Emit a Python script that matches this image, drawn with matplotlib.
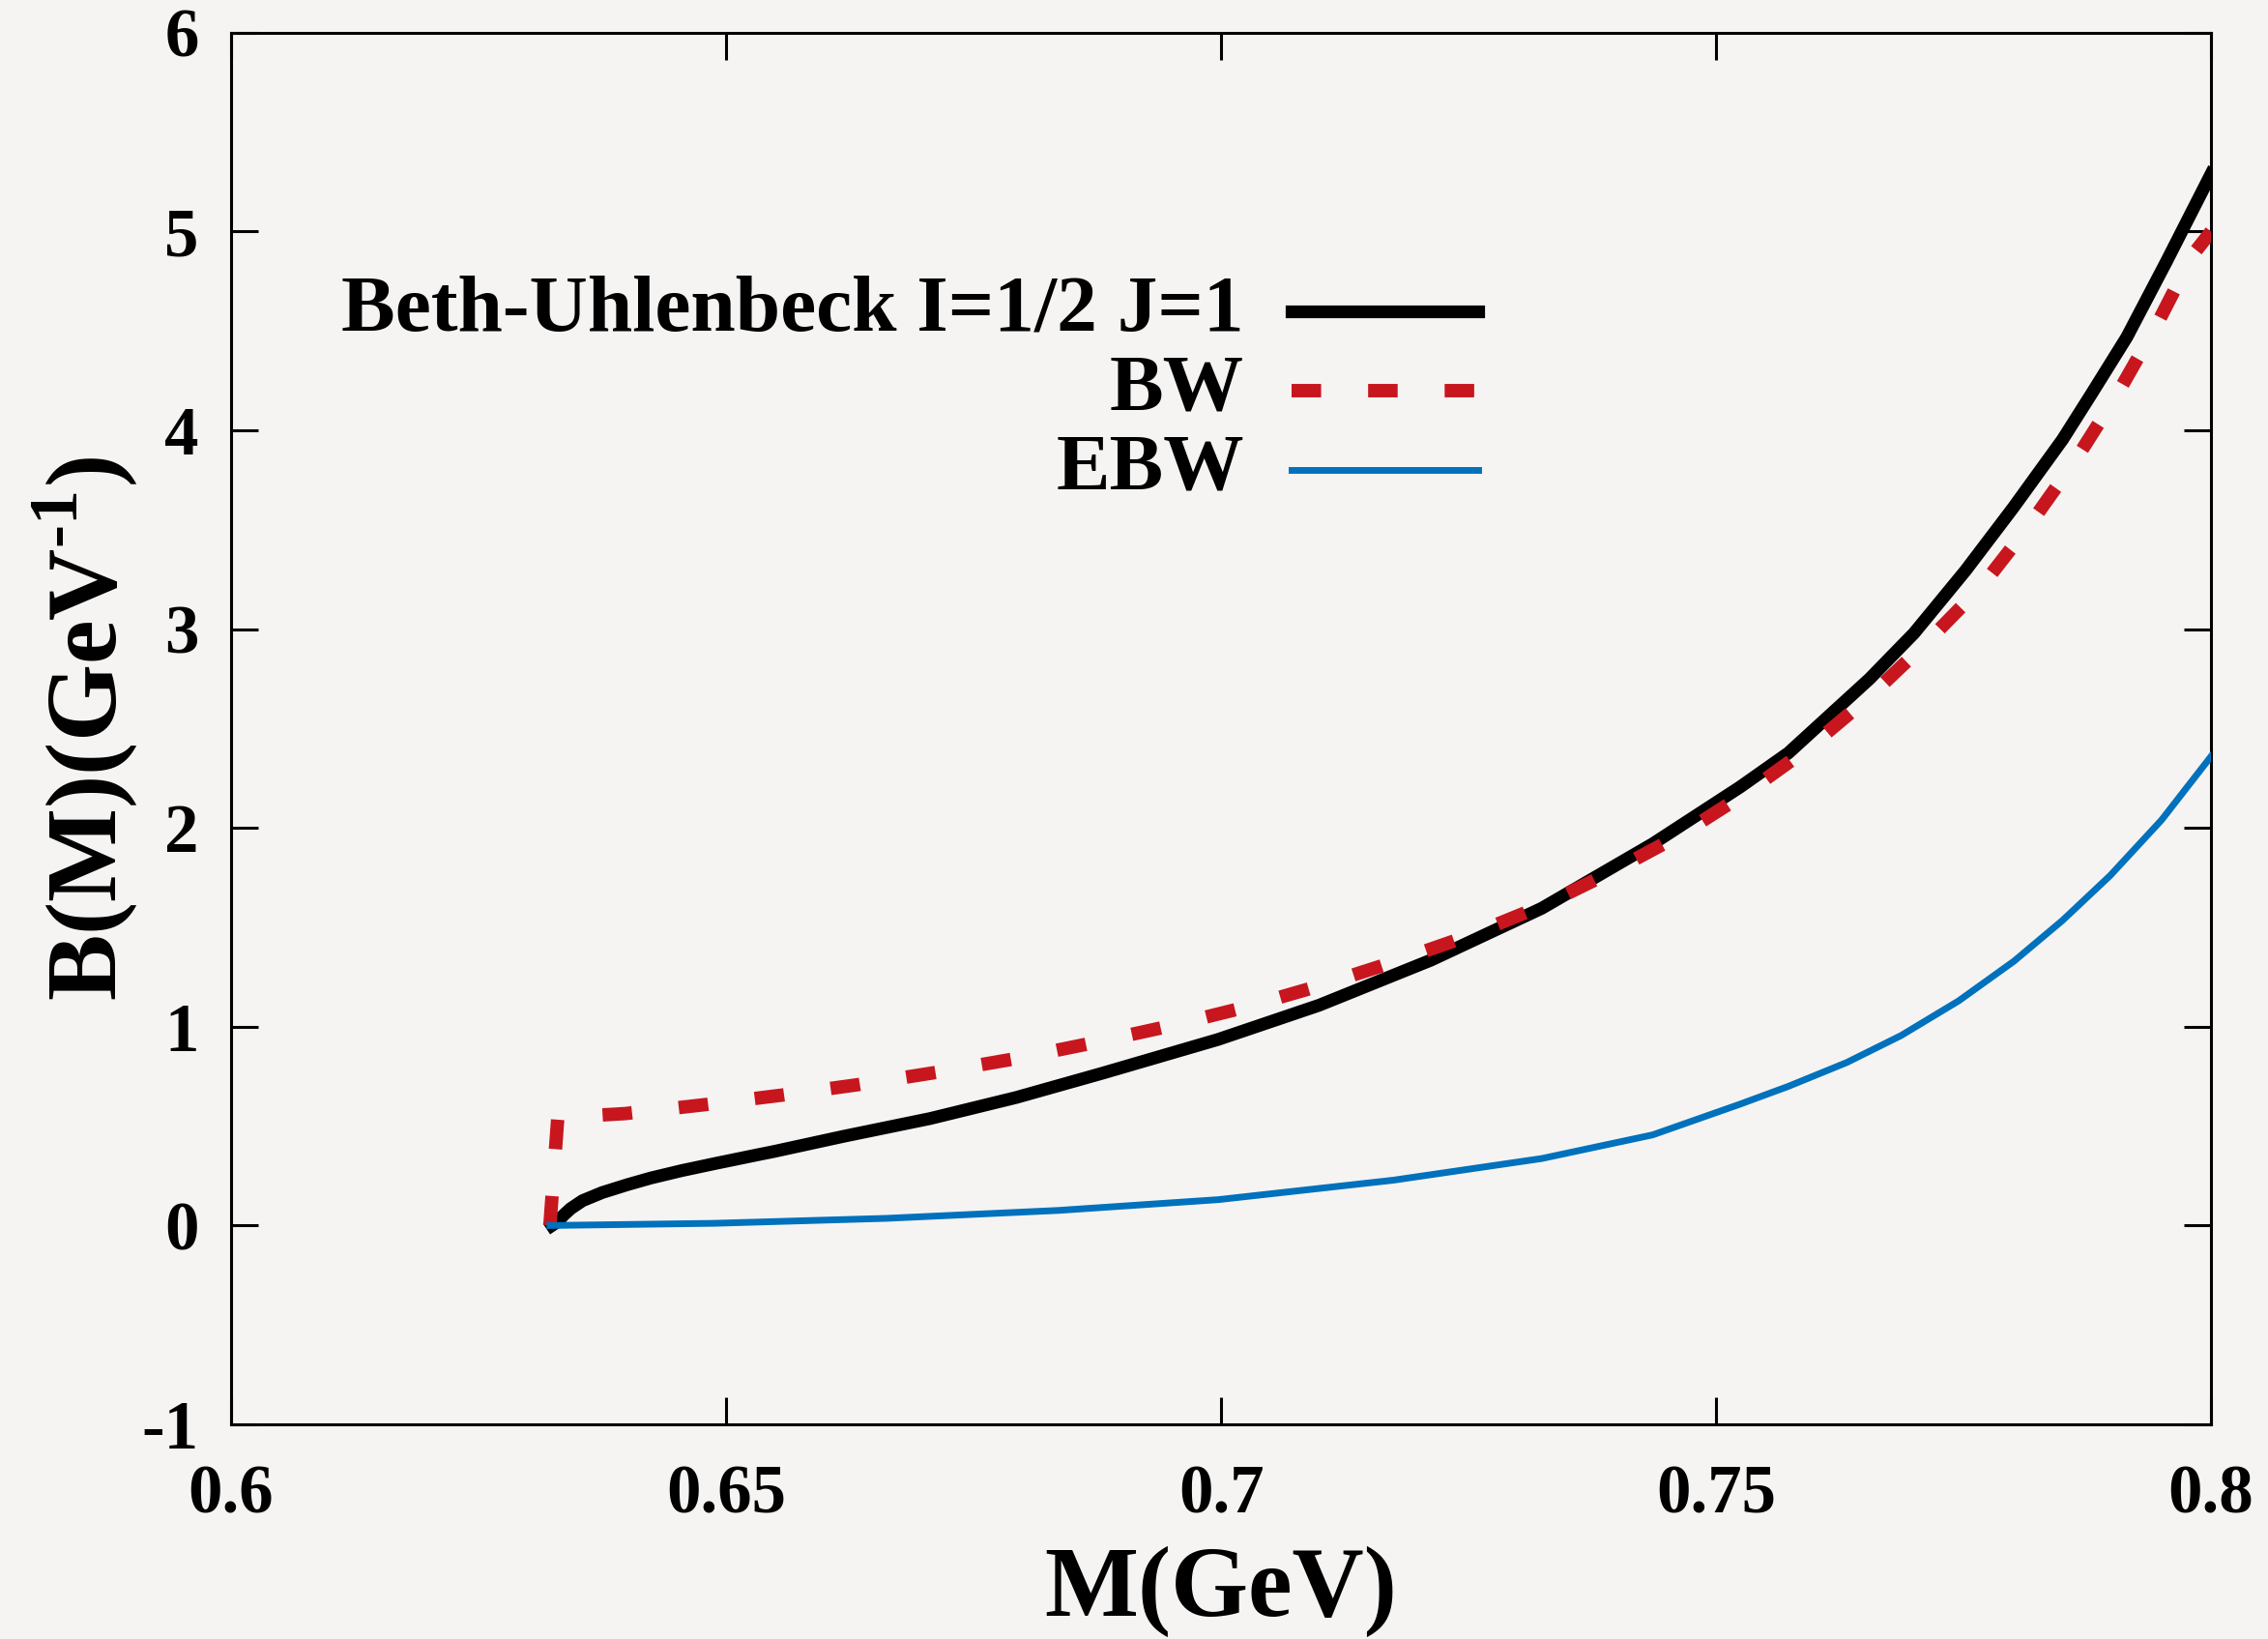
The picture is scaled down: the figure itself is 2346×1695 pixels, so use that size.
import matplotlib
matplotlib.use("Agg")
import matplotlib.pyplot as plt
from matplotlib.lines import Line2D

matplotlib.rcParams['font.family'] = ['Liberation Serif', 'DejaVu Serif']
matplotlib.rcParams['font.weight'] = 'bold'
matplotlib.rcParams['axes.unicode_minus'] = False
matplotlib.rcParams['mathtext.fontset'] = 'custom'
matplotlib.rcParams['mathtext.rm'] = 'Liberation Serif:bold'
matplotlib.rcParams['mathtext.bf'] = 'Liberation Serif:bold'

BG = '#f5f4f2'

# Beth-Uhlenbeck I=1/2 J=1
m_bu = [0.6324, 0.6330, 0.6336, 0.6343, 0.6355, 0.6375, 0.6400, 0.6424, 0.6455,
        0.6489, 0.6531, 0.6548, 0.6619, 0.6706, 0.6793, 0.6880, 0.6997, 0.7099,
        0.7212, 0.7324, 0.7436, 0.7524, 0.7573, 0.7655, 0.7700, 0.7752, 0.7800,
        0.7850, 0.7880, 0.7915, 0.7955, 0.8000]
b_bu = [0.0, 0.02, 0.053, 0.085, 0.125, 0.166, 0.205, 0.239, 0.276,
        0.312, 0.355, 0.372, 0.449, 0.538, 0.644, 0.766, 0.936, 1.108,
        1.335, 1.596, 1.920, 2.205, 2.377, 2.75, 2.98, 3.295, 3.61,
        3.954, 4.19, 4.470, 4.85, 5.29]

# BW
m_bw = [0.6322, 0.6330, 0.6398, 0.6477, 0.6555, 0.6634, 0.6712, 0.6791, 0.6868,
        0.6945, 0.7023, 0.7099, 0.7174, 0.7249, 0.7324, 0.7395, 0.7464, 0.7531,
        0.7593, 0.7655, 0.7712, 0.7769, 0.7816, 0.7863, 0.7905, 0.7945, 0.7981,
        0.8000]
b_bw = [0.0, 0.543, 0.563, 0.607, 0.655, 0.709, 0.770, 0.838, 0.916,
        1.000, 1.096, 1.205, 1.325, 1.455, 1.607, 1.781, 1.965, 2.178,
        2.40, 2.66, 2.93, 3.22, 3.52, 3.85, 4.18, 4.53, 4.88,
        5.0]

# EBW
m_ebw = [0.6322, 0.6488, 0.6662, 0.6836, 0.6997, 0.7174, 0.7324, 0.7436, 0.7524,
         0.7573, 0.7632, 0.7687, 0.7745, 0.7801, 0.7850, 0.7898, 0.7950, 0.8000]
b_ebw = [0.0, 0.011, 0.036, 0.076, 0.130, 0.228, 0.337, 0.456, 0.61,
         0.70, 0.82, 0.956, 1.13, 1.33, 1.535, 1.76, 2.04, 2.36]

labels = ['Beth-Uhlenbeck I=1/2 J=1', 'BW', 'EBW']
xticks = [0.6, 0.65, 0.7, 0.75, 0.8]
xticklabels = ['0.6', '0.65', '0.7', '0.75', '0.8']
yticks = [-1, 0, 1, 2, 3, 4, 5, 6]

fig = plt.figure(figsize=(23.46, 16.95), dpi=100, facecolor=BG)
ax = fig.add_axes([0.1019, 0.131, 0.8730, 0.849], facecolor=BG)

styles = [
    dict(color='black', linewidth=9.5, linestyle='-'),
    dict(color='#c8161e', linewidth=10, dashes=(2.2, 3.5)),
    dict(color='#0071bc', linewidth=5, linestyle='-'),
]
ax.plot(m_bu, b_bu, **styles[0], solid_joinstyle='round', zorder=3)
ax.plot(m_bw, b_bw, **styles[1], zorder=4)
ax.plot(m_ebw, b_ebw, **styles[2], solid_joinstyle='round', zorder=5)

ax.set_xlim(0.6, 0.8)
ax.set_ylim(-1, 6)
ax.set_xticks(xticks)
ax.set_xticklabels(xticklabels)
ax.set_yticks(yticks)
ax.tick_params(direction='in', length=20, width=2.2, labelsize=51,
               top=True, right=True, pad=24)
ax.tick_params(axis='x', pad=30)
for s in ax.spines.values():
    s.set_linewidth(2.2)

ax.set_xlabel('M(GeV)', fontsize=74, fontweight='bold', labelpad=14)
ax.set_ylabel(r'B(M)(GeV$^{\text{-1}}$)', fontsize=74, fontweight='bold', labelpad=2)

# key, right-aligned text with line samples
rows = [0.7999, 0.7429, 0.6859]
for lab, st, yy in zip(labels, styles, rows):
    ax.text(0.5117, yy, lab, transform=ax.transAxes, ha='right', va='center',
            fontsize=60, fontweight='bold')
    ax.add_line(Line2D([0.5356, 0.6299], [yy, yy], transform=ax.transAxes, **st))

fig.savefig('out.png', dpi=100, facecolor=BG)
